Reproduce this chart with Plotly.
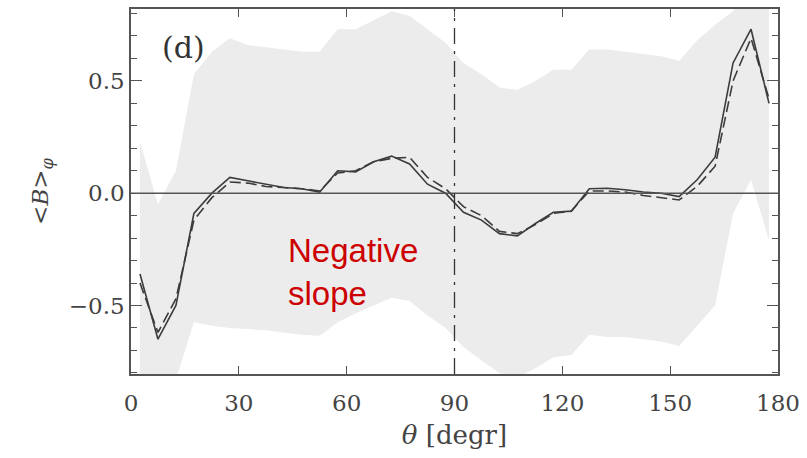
import plotly.graph_objects as go

theta = [2.5 + 5 * k for k in range(36)]

b_solid = [-0.36, -0.65, -0.50, -0.09, 0.00, 0.07, 0.055, 0.04, 0.025, 0.02, 0.005, 0.10,
           0.095, 0.14, 0.165, 0.13, 0.04, 0.00, -0.085, -0.12, -0.18, -0.19, -0.135, -0.085,
           -0.08, 0.02, 0.022, 0.015, 0.005, 0.0, -0.015, 0.06, 0.16, 0.58, 0.73, 0.40]

b_dashed = [-0.40, -0.62, -0.47, -0.12, -0.02, 0.05, 0.045, 0.03, 0.025, 0.02, 0.01, 0.09,
            0.10, 0.14, 0.155, 0.16, 0.07, 0.02, -0.06, -0.10, -0.17, -0.18, -0.14, -0.09,
            -0.08, 0.01, 0.01, 0.005, -0.01, -0.02, -0.03, 0.03, 0.12, 0.50, 0.69, 0.42]

band_upper = [0.23, -0.05, 0.10, 0.53, 0.63, 0.69, 0.66, 0.65, 0.64, 0.63, 0.63, 0.73,
              0.73, 0.77, 0.81, 0.79, 0.73, 0.67, 0.58, 0.53, 0.47, 0.46, 0.50, 0.55,
              0.55, 0.64, 0.64, 0.63, 0.62, 0.61, 0.59, 0.68, 0.75, 0.81, 0.95, 0.95]

band_lower = [-0.95, -0.95, -0.83, -0.575, -0.59, -0.60, -0.605, -0.61, -0.62, -0.63, -0.635, -0.575,
              -0.535, -0.50, -0.465, -0.48, -0.545, -0.60, -0.685, -0.745, -0.80, -0.82, -0.78, -0.73,
              -0.72, -0.63, -0.64, -0.64, -0.65, -0.66, -0.68, -0.59, -0.50, -0.09, 0.06, -0.21]

x_ticks = [0, 30, 60, 90, 120, 150, 180]
y_ticks = [-0.5, 0.0, 0.5]
y_tick_text = ["\u22120.5", "0.0", "0.5"]

fig = go.Figure()
fig.add_trace(go.Scatter(x=theta, y=band_lower, mode="lines", line=dict(width=0, color="#ececec"),
                         showlegend=False, hoverinfo="skip"))
fig.add_trace(go.Scatter(x=theta, y=band_upper, mode="lines", line=dict(width=0, color="#ececec"),
                         fill="tonexty", fillcolor="#ececec", showlegend=False, hoverinfo="skip"))
fig.add_trace(go.Scatter(x=theta, y=b_dashed, mode="lines",
                         line=dict(color="#3c3c3c", width=1.6, dash="11px,5px"), showlegend=False))
fig.add_trace(go.Scatter(x=theta, y=b_solid, mode="lines",
                         line=dict(color="#3c3c3c", width=1.6), showlegend=False))

fig.add_shape(type="line", x0=0, x1=1, y0=0, y1=0, xref="paper", yref="y", layer="above",
              line=dict(color="#555555", width=1.6))
fig.add_shape(type="line", x0=90, x1=90, y0=0, y1=1, xref="x", yref="paper", layer="above",
              line=dict(color="#333333", width=1.3, dash="16px,7px,3px,7px"))

axis_font = dict(family="DejaVu Serif", size=23, color="#444444")
title_font = dict(family="DejaVu Serif", size=26, color="#444444")

fig.update_xaxes(range=[0, 180], tickvals=x_ticks, ticks="inside", ticklen=8, tickwidth=1.3,
                 tickcolor="#555555", showline=True, linecolor="#555555", linewidth=1.5,
                 mirror="ticks", showgrid=False, zeroline=False, tickfont=axis_font,
                 ticklabelstandoff=8,
                 title=dict(text="<i>θ</i> [degr]", font=title_font, standoff=10))
fig.update_yaxes(range=[-0.805, 0.82], tickvals=y_ticks, ticktext=y_tick_text, ticks="inside",
                 ticklen=11, tickwidth=1.3, tickcolor="#555555", showline=True, linecolor="#555555",
                 linewidth=1.5, mirror="ticks", showgrid=False, zeroline=False,
                 tickfont=axis_font,
                 minor=dict(dtick=0.1, tick0=0, ticks="inside", ticklen=6, tickwidth=1.2,
                            tickcolor="#555555", showgrid=False),
                 title=dict(text="&lt;<i>B</i>&gt;<sub><i>φ</i></sub>", font=axis_font, standoff=14))

fig.add_annotation(x=14.7, y=0.65, xref="x", yref="y", text="(d)", showarrow=False,
                   font=dict(family="DejaVu Serif", size=30, color="#333333"),
                   xanchor="center", yanchor="middle")
fig.add_annotation(x=43.0, y=-0.35, xref="x", yref="y", text="Negative<br>slope", showarrow=False,
                   align="left", xanchor="left", yanchor="middle",
                   font=dict(family="Liberation Sans", size=33, color="#cc0000"))

fig.update_layout(width=807, height=458, margin=dict(l=131, r=23, t=7, b=84),
                  plot_bgcolor="white", paper_bgcolor="white")

fig.write_html("out.html")
